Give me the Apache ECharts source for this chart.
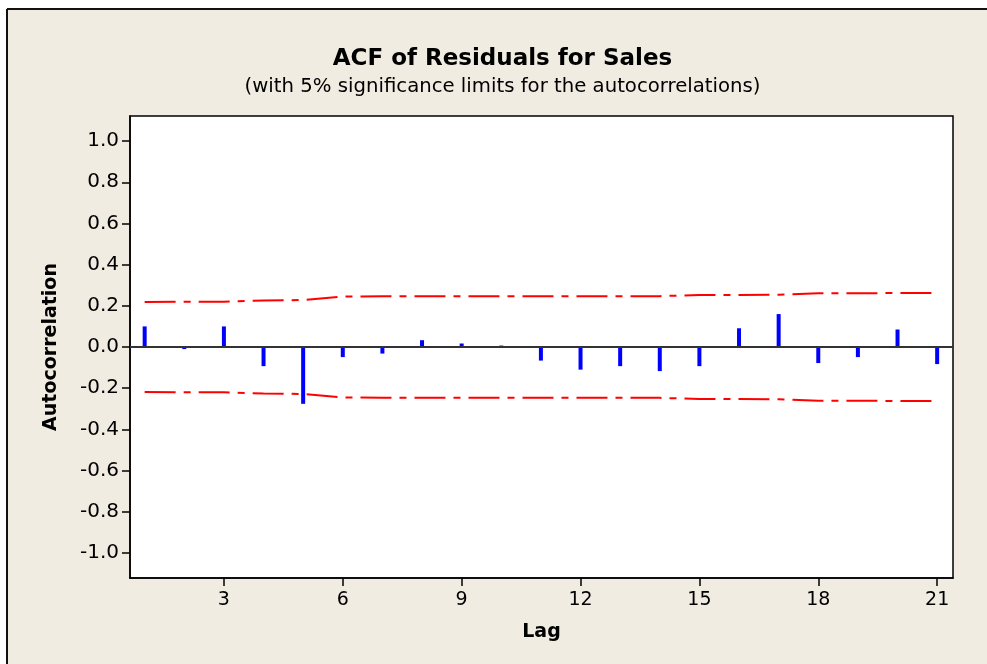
<!DOCTYPE html>
<html>
<head>
<meta charset="utf-8">
<script src="https://cdn.jsdelivr.net/npm/echarts@6/dist/echarts.min.js"></script>
<style>html,body{margin:0;padding:0;background:#fff;}#c{width:987px;height:664px;}</style>
</head>
<body>
<div id="c"></div>
<script>
var titleText = 'ACF of Residuals for Sales';
var subtitleText = '(with 5% significance limits for the autocorrelations)';
var lags = [1,2,3,4,5,6,7,8,9,10,11,12,13,14,15,16,17,18,19,20,21];
var acf = [0.10,-0.01,0.10,-0.093,-0.276,-0.049,-0.032,0.033,0.017,0.007,-0.066,-0.110,-0.093,-0.117,-0.093,0.091,0.160,-0.078,-0.049,0.085,-0.083];
var upperLimit = [0.219,0.220,0.220,0.226,0.228,0.245,0.246,0.246,0.246,0.246,0.246,0.246,0.247,0.247,0.253,0.253,0.254,0.261,0.261,0.262,0.262];
var lowerLimit = [-0.219,-0.220,-0.220,-0.226,-0.228,-0.245,-0.246,-0.246,-0.246,-0.246,-0.246,-0.246,-0.247,-0.247,-0.253,-0.253,-0.254,-0.261,-0.261,-0.262,-0.262];
var yTicks = [-1.0,-0.8,-0.6,-0.4,-0.2,0.0,0.2,0.4,0.6,0.8,1.0];
var xTicks = [3,6,9,12,15,18,21];

function pairs(xs, ys){ return xs.map(function(x,i){ return [x, ys[i]]; }); }

var chart = echarts.init(document.getElementById('c'), null, {renderer:'canvas'});
var font = 'DejaVu Sans';
chart.setOption({
  backgroundColor: '#F0ECE2',
  animation: false,
  graphic: [
    {type:'rect', shape:{x:0,y:0,width:987,height:8}, style:{fill:'#fff'}, silent:true},
    {type:'rect', shape:{x:0,y:0,width:6,height:664}, style:{fill:'#fff'}, silent:true},
    {type:'line', shape:{x1:7,y1:9,x2:987,y2:9}, style:{stroke:'#111',lineWidth:2}, silent:true},
    {type:'line', shape:{x1:7,y1:9,x2:7,y2:664}, style:{stroke:'#111',lineWidth:2}, silent:true},
    {type:'text', x:502.5, y:59, style:{text:titleText, font:'bold 23px "DejaVu Sans"', fill:'#000', align:'center', verticalAlign:'middle'}},
    {type:'text', x:502.5, y:87, style:{text:subtitleText, font:'19.7px "DejaVu Sans"', fill:'#000', align:'center', verticalAlign:'middle'}}
  ],
  grid: {left:130, right:34, top:116, bottom:86, show:true, backgroundColor:'#fff', borderColor:'#000', borderWidth:1.5, containLabel:false},
  xAxis: {
    type:'value', min:0.63, max:21.4,
    name:'Lag', nameLocation:'middle', nameGap:45,
    nameTextStyle:{fontFamily:font, fontWeight:'bold', fontSize:19, color:'#000'},
    axisLine:{show:true, onZero:false, lineStyle:{color:'#000', width:1.5}},
    axisTick:{show:true, length:8, lineStyle:{color:'#000', width:1.5}, customValues: xTicks},
    axisLabel:{fontFamily:font, fontSize:19, color:'#000', margin:13, customValues: xTicks},
    splitLine:{show:false}
  },
  yAxis: {
    type:'value', min:-1.122, max:1.122,
    name:'Autocorrelation', nameLocation:'middle', nameGap:69, nameRotate:90,
    nameTextStyle:{fontFamily:font, fontWeight:'bold', fontSize:19, color:'#000'},
    axisLine:{show:true, onZero:false, lineStyle:{color:'#000', width:1.5}},
    axisTick:{show:true, length:8, lineStyle:{color:'#000', width:1.5}, customValues: yTicks},
    axisLabel:{fontFamily:font, fontSize:20, color:'#000', margin:11, customValues: yTicks,
      formatter:function(v){ return v.toFixed(1); }},
    splitLine:{show:false}
  },
  series: [
    {
      type:'bar', data: pairs(lags, acf), barWidth:4,
      itemStyle:{color:'#0000FF'},
      markLine:{silent:true, symbol:['none','none'], label:{show:false},
        lineStyle:{color:'#333333', width:2, type:'solid'}, data:[{yAxis:0}]},
      z:3
    },
    {
      type:'line', data: pairs(lags, upperLimit), symbol:'none',
      lineStyle:{color:'#FF0000', width:2, type:[31,8,7,8]}, z:4
    },
    {
      type:'line', data: pairs(lags, lowerLimit), symbol:'none',
      lineStyle:{color:'#FF0000', width:2, type:[31,8,7,8]}, z:4
    }
  ]
});
</script>
</body>
</html>
